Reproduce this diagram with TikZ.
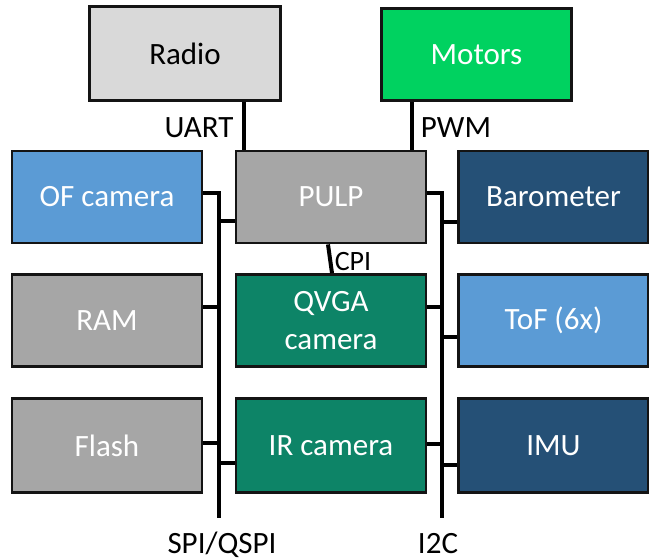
\documentclass[tikz,border=0pt]{standalone}
\usepackage{fontspec}
\setmainfont{Carlito}
\definecolor{radiogray}{HTML}{D9D9D9}
\definecolor{motorgreen}{HTML}{00D260}
\definecolor{chipgray}{HTML}{A6A6A6}
\definecolor{lightblue}{HTML}{5B9BD5}
\definecolor{deepblue}{HTML}{255076}
\definecolor{camteal}{HTML}{0D8467}
\definecolor{edge}{HTML}{141414}
\begin{document}
\begin{tikzpicture}[x=1pt,y=-1pt,
  box/.style={draw=edge, line width=2.8pt, minimum width=190pt, minimum height=92pt,
    inner sep=0pt, font=\fontsize{31}{38}\selectfont, text=white, align=center},
  bus/.style={line width=4pt, draw=black},
  lbl/.style={font=\fontsize{31}{38}\selectfont, inner sep=0pt, anchor=base}]
\useasboundingbox (0,0) rectangle (649,560);

% top row: radio and motors
\node[box, fill=radiogray, text=black, minimum width=191pt, minimum height=94pt] (radio) at (185,53.5) {Radio};
\node[box, fill=motorgreen] (motors) at (476.5,54.5) {Motors};

% three columns of peripherals around the processor
\node[box, fill=lightblue] (of)   at (107,197) {OF camera};
\node[box, fill=chipgray]  (pulp) at (331,197) {PULP};
\node[box, fill=deepblue]  (baro) at (553.5,197) {Barometer};

\node[box, fill=chipgray]  (ram)  at (107,320.5) {RAM};
\node[box, fill=camteal]   (qvga) at (331,320.5) {QVGA\\camera};
\node[box, fill=lightblue] (tof)  at (553.5,320.5) {ToF (6x)};

\node[box, fill=chipgray, minimum height=94pt] (flash) at (107,445.5) {Flash};
\node[box, fill=camteal,  minimum height=94pt] (ir)    at (331,445.5) {IR camera};
\node[box, fill=deepblue, minimum height=94pt] (imu)   at (553.5,445.5) {IMU};

% x positions of the point-to-point links
\coordinate (xu) at (244,0);
\coordinate (xp) at (412,0);
\coordinate (xc1) at (328,0);
\coordinate (xc2) at (332,0);

% bus ends
\coordinate (lbus) at (219,518);
\coordinate (rbus) at (442,518);

% branch heights, SPI/QSPI bus
\coordinate (yof)  at (0,193);
\coordinate (ypl)  at (0,221);
\coordinate (yram) at (0,307);
\coordinate (yfl)  at (0,443);
\coordinate (yirl) at (0,463);
% branch heights, I2C bus
\coordinate (ypr)  at (0,193);
\coordinate (yba)  at (0,222);
\coordinate (yqv)  at (0,307);
\coordinate (ytof) at (0,337);
\coordinate (yirr) at (0,444);
\coordinate (yimu) at (0,465);

% point-to-point links
\draw[bus] (radio.south -| xu) -- (pulp.north -| xu);
\draw[bus] (motors.south -| xp) -- (pulp.north -| xp);
\draw[bus] (pulp.south -| xc1) -- (qvga.north -| xc2);

% SPI/QSPI bus
\draw[bus] (of.east |- yof) -| (lbus);
\draw[bus] (lbus |- ypl) -- (pulp.west |- ypl);
\draw[bus] (ram.east |- yram) -- (lbus |- yram);
\draw[bus] (flash.east |- yfl) -- (lbus |- yfl);
\draw[bus] (lbus |- yirl) -- (ir.west |- yirl);

% I2C bus
\draw[bus] (pulp.east |- ypr) -| (rbus);
\draw[bus] (rbus |- yba) -- (baro.west |- yba);
\draw[bus] (qvga.east |- yqv) -- (rbus |- yqv);
\draw[bus] (rbus |- ytof) -- (tof.west |- ytof);
\draw[bus] (ir.east |- yirr) -- (rbus |- yirr);
\draw[bus] (rbus |- yimu) -- (imu.west |- yimu);

% link labels
\node[lbl] (uart) at (199,137) {UART};
\node[lbl] (pwm)  at (456,137) {PWM};
\node[lbl, font=\fontsize{28}{34}\selectfont] (cpi) at (353,270) {CPI};
\node[lbl] (spi)  at (222,553) {SPI/QSPI};
\node[lbl] (i2c)  at (438,553) {I2C};
\end{tikzpicture}
\end{document}
